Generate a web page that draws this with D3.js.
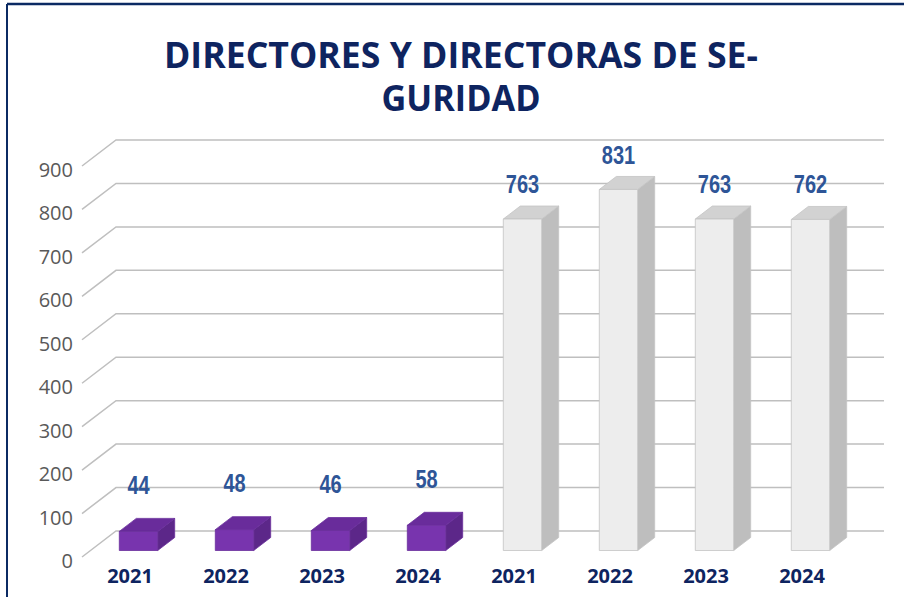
<!DOCTYPE html>
<html>
<head>
<meta charset="utf-8">
<script src="https://cdn.jsdelivr.net/npm/d3@7"></script>
<style>
  body { margin: 0; background: #fff; }
  svg { display: block; }
</style>
</head>
<body>
<svg id="chart" width="904" height="597"></svg>
<script>
// data
const years = ["2021", "2022", "2023", "2024", "2021", "2022", "2023", "2024"];
const values = [44, 48, 46, 58, 763, 831, 763, 762];
const groups = ["a", "a", "a", "a", "b", "b", "b", "b"];
const yTicks = [0, 100, 200, 300, 400, 500, 600, 700, 800, 900];
const titleLines = ["DIRECTORES Y DIRECTORAS DE SE-", "GURIDAD"];

const palette = {
  a: { front: "#7834AE", top: "#692C9B", side: "#5C2789", stroke: "#6A2E9C" },
  b: { front: "#EDEDED", top: "#D2D2D2", side: "#BEBEBE", stroke: "#C4C4C4" }
};

const svg = d3.select("#chart");

// frame
svg.append("line").attr("x1", 7).attr("x2", 904).attr("y1", 4).attr("y2", 4)
  .attr("stroke", "#0B2A63").attr("stroke-width", 2.5);
svg.append("line").attr("x1", 7).attr("x2", 7).attr("y1", 4).attr("y2", 597)
  .attr("stroke", "#0B2A63").attr("stroke-width", 2);

// title
svg.selectAll("text.title")
  .data(titleLines)
  .enter()
  .append("text")
  .attr("class", "title")
  .attr("x", 461)
  .attr("y", (d, i) => 68 + i * 43)
  .attr("text-anchor", "middle")
  .attr("font-family", "'Open Sans', sans-serif")
  .attr("font-weight", 700)
  .attr("font-size", 35)
  .attr("fill", "#0E2460")
  .attr("textLength", (d, i) => (i === 0 ? 594 : 159))
  .attr("lengthAdjust", "spacingAndGlyphs")
  .text((d) => d);

// depth of the 3d floor
const DX = 34;
const DY = -26;

const x = d3.scaleBand().domain(d3.range(values.length)).range([82, 850]).padding(0);
const y = d3.scaleLinear().domain([0, 900]).range([557, 166]);
const barW = x.bandwidth() * 0.4;
const f0 = 0.25;
const f1 = 0.75;

// gridlines: front diagonal then along the back wall
const grid = svg.append("g").attr("class", "grid");
grid.selectAll("path")
  .data(yTicks)
  .enter()
  .append("path")
  .attr("fill", "none")
  .attr("stroke", "#BFBFBF")
  .attr("stroke-width", 1.5)
  .attr("d", (t) => `M${82},${y(t)} L${82 + DX},${y(t) + DY} L${884},${y(t) + DY}`);

// y tick labels
svg.append("g")
  .selectAll("text")
  .data(yTicks)
  .enter()
  .append("text")
  .attr("x", 73)
  .attr("y", (t) => y(t) + 11)
  .attr("text-anchor", "end")
  .attr("font-family", "'Open Sans', sans-serif")
  .attr("font-size", 20)
  .attr("fill", "#595959")
  .text((t) => t);

// bars
const bars = svg.append("g").attr("class", "bars")
  .selectAll("g")
  .data(values.map((v, i) => ({ v, i, g: groups[i] })))
  .enter()
  .append("g");

bars.each(function (d) {
  const g = d3.select(this);
  const c = palette[d.g];
  const xl = x(d.i) + (x.bandwidth() - barW) / 2;
  const xr = xl + barW;
  const yb = y(0);
  const yt = y(d.v);
  const p = (px, py, f) => [px + f * DX, py + f * DY];
  const poly = (pts) => "M" + pts.map((q) => q.join(",")).join("L") + "Z";

  const A = p(xl, yt, f0), B = p(xr, yt, f0), C = p(xr, yb, f0), D = p(xl, yb, f0);
  const A2 = p(xl, yt, f1), B2 = p(xr, yt, f1), C2 = p(xr, yb, f1);

  g.append("path").attr("d", poly([B, B2, C2, C]))
    .attr("fill", c.side).attr("stroke", c.stroke).attr("stroke-width", 0.8);
  g.append("path").attr("d", poly([A, A2, B2, B]))
    .attr("fill", c.top).attr("stroke", c.stroke).attr("stroke-width", 0.8);
  g.append("path").attr("d", poly([A, B, C, D]))
    .attr("fill", c.front).attr("stroke", c.stroke).attr("stroke-width", 0.8);

  // value label above the bar, squeezed like a narrow face
  const gap = 20 + 14 * (1 - d.v / 900);
  const lx = (A[0] + B[0]) / 2;
  g.append("text")
    .attr("transform", `translate(${lx},${A2[1] - gap + 9}) scale(0.8,1)`)
    .attr("text-anchor", "middle")
    .attr("font-family", "'Liberation Sans', Arial, sans-serif")
    .attr("font-weight", 700)
    .attr("font-size", 25)
    .attr("fill", "#2E5597")
    .text(d.v);
});

// category labels
svg.append("g")
  .selectAll("text")
  .data(years)
  .enter()
  .append("text")
  .attr("x", (d, i) => x(i) + x.bandwidth() / 2)
  .attr("y", 583)
  .attr("text-anchor", "middle")
  .attr("font-family", "'Open Sans', sans-serif")
  .attr("font-weight", 700)
  .attr("font-size", 20)
  .attr("fill", "#0E2460")
  .text((d) => d);
</script>
</body>
</html>
